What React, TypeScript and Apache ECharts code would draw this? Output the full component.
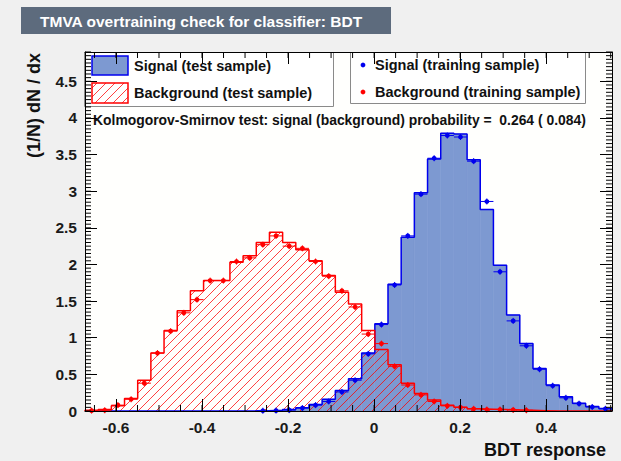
import { useEffect, useRef } from "react";
import * as echarts from "echarts";

// Binning of the BDT response histograms (40 equal bins)
const BIN_LOW = -0.672;
const BIN_WIDTH = 0.030625;
const N_BINS = 40;
const X_MIN = BIN_LOW;
const X_MAX = BIN_LOW + N_BINS * BIN_WIDTH;
const Y_MIN = 0;
const Y_MAX = 4.9;

// Axis tick labels
const xTickLabels = [-0.6, -0.4, -0.2, 0, 0.2, 0.4];
const yTickLabels = [0, 0.5, 1, 1.5, 2, 2.5, 3, 3.5, 4, 4.5];

// Normalised (1/N) dN/dx per bin
const signalTest = [
  0, 0, 0, 0, 0, 0, 0, 0, 0, 0,
  0, 0, 0, 0.003, 0.01, 0.02, 0.045, 0.09, 0.16, 0.28,
  0.44, 0.79, 1.19, 1.73, 2.37, 2.98, 3.44, 3.79, 3.78, 3.43,
  2.75, 1.99, 1.31, 0.92, 0.58, 0.355, 0.195, 0.105, 0.06, 0.035,
];
const backgroundTest = [
  0.01, 0.02, 0.07, 0.17, 0.42, 0.79, 1.1, 1.37, 1.64, 1.78,
  1.78, 2.03, 2.12, 2.3, 2.44, 2.3, 2.2, 2.05, 1.85, 1.62,
  1.46, 1.1, 0.84, 0.63, 0.38, 0.24, 0.15, 0.08, 0.05, 0.03,
  0.025, 0.02, 0.015, 0.01, 0.005, 0, 0, 0, 0, 0,
];
const signalTrain = [
  null, null, null, null, null, null, null, null, null, null,
  null, null, null, 0.004, 0.006, 0.012, 0.04, 0.08, 0.13, 0.26,
  0.42, 0.78, 1.18, 1.72, 2.39, 2.96, 3.45, 3.76, 3.74, 3.41,
  2.86, 1.9, 1.23, 0.89, 0.57, 0.345, 0.18, 0.1, 0.055, 0.03,
];
const backgroundTrain = [
  0.005, 0.01, 0.08, 0.16, 0.38, 0.79, 1.09, 1.34, 1.52, 1.78,
  1.78, 2.04, 2.09, 2.27, 2.39, 2.25, 2.22, 2.04, 1.84, 1.64,
  1.42, 1.05, 0.92, 0.61, 0.355, 0.22, 0.13, 0.07, 0.05, 0.03,
  0.02, 0.02, 0.015, 0.01, null, null, null, null, null, null,
];

const ksSignal = "0.264";
const ksBackground = "0.084";

const FONT = "'Liberation Sans', Arial, Helvetica, sans-serif";
const SIGNAL_FILL = "#7d99d1";
const SIGNAL_LINE = "#0000ee";
const BACKGROUND_LINE = "#ff0000";
const HATCH_STEP = 9;
const TICK_COLOR = "#000000";

const GRID = { left: 85, right: 9, top: 52, bottom: 50 };

const binEdges = Array.from({ length: N_BINS + 1 }, (_, i) => BIN_LOW + i * BIN_WIDTH);

function binData(values: (number | null)[]) {
  return values
    .map((v, i) => [binEdges[i], binEdges[i + 1], v])
    .filter((d) => d[2] !== null);
}

// Outline of a histogram as a stepped polyline
function stepPoints(values: number[]) {
  const pts: number[][] = [[X_MIN, 0]];
  values.forEach((v, i) => pts.push([binEdges[i], v]));
  pts.push([X_MAX, values[values.length - 1]]);
  pts.push([X_MAX, 0]);
  return pts;
}

// 45 degree hatch segments ("/") clipped to a pixel rectangle
function hatchLines(x0: number, y0: number, x1: number, y1: number, step: number) {
  const out: number[][] = [];
  const kMin = Math.ceil((x0 + y0) / step);
  const kMax = Math.floor((x1 + y1) / step);
  for (let k = kMin; k <= kMax; k++) {
    const c = k * step;
    const xa = Math.max(x0, c - y1);
    const xb = Math.min(x1, c - y0);
    if (xb > xa) out.push([xa, c - xa, xb, c - xb]);
  }
  return out;
}

function ticksEvery(min: number, max: number, stepHundredths: number) {
  const vals: number[] = [];
  const k0 = Math.ceil(Math.round(min * 1000) / (stepHundredths * 10));
  const k1 = Math.floor(Math.round(max * 1000) / (stepHundredths * 10));
  for (let k = k0; k <= k1; k++) vals.push((k * stepHundredths) / 100);
  return vals;
}

const xMinorTicks = ticksEvery(X_MIN, X_MAX, 5);
const yMinorTicks = ticksEvery(Y_MIN, Y_MAX, 5);

const labelStyle = {
  fontFamily: FONT,
  fontWeight: "bold" as const,
  fontSize: 15.5,
  color: "#1a1a1a",
};

function xAxisDef(position: "top" | "bottom", labels: boolean) {
  return {
    type: "value",
    position,
    min: X_MIN,
    max: X_MAX,
    z: 10,
    axisLine: { show: true, onZero: false, lineStyle: { color: "#000", width: 1 } },
    axisTick: { show: true, inside: true, length: 12, customValues: xTickLabels, lineStyle: { color: "#000", width: 1 } },
    axisLabel: labels
      ? { show: true, customValues: xTickLabels, margin: 8, ...labelStyle }
      : { show: false },
    splitLine: { show: false },
  };
}

function yAxisDef(position: "left" | "right", labels: boolean) {
  return {
    type: "value",
    position,
    min: Y_MIN,
    max: Y_MAX,
    z: 10,
    axisLine: { show: true, onZero: false, lineStyle: { color: "#000", width: 1 } },
    axisTick: { show: true, inside: true, length: 12, customValues: yTickLabels, lineStyle: { color: "#000", width: 1 } },
    axisLabel: labels
      ? { show: true, customValues: yTickLabels, margin: 8, ...labelStyle }
      : { show: false },
    splitLine: { show: false },
  };
}

function legendGraphics() {
  const els: any[] = [];
  const z = 5;
  const textStyle = (text: string, x: number, y: number, size: number) => ({
    type: "text",
    z,
    x,
    y,
    style: {
      text,
      fill: "#111",
      fontFamily: FONT,
      fontWeight: "bold",
      fontSize: size,
      align: "left",
      verticalAlign: "middle",
      textAlign: "left",
      textVerticalAlign: "middle",
    },
  });

  // Title box
  els.push({ type: "rect", z, shape: { x: 21, y: 7, width: 370, height: 27 }, style: { fill: "#5d6b7d" } });
  els.push({
    type: "text",
    z,
    x: 40,
    y: 21,
    style: {
      text: "TMVA overtraining check for classifier: BDT",
      fill: "#ffffff",
      fontFamily: FONT,
      fontWeight: "bold",
      fontSize: 15.5,
      align: "left",
      verticalAlign: "middle",
      textAlign: "left",
      textVerticalAlign: "middle",
    },
  });

  // Test sample legend
  els.push({ type: "rect", z, shape: { x: 84.5, y: 52.5, width: 249, height: 54 }, style: { fill: "#ffffff", stroke: "#8a8a8a", lineWidth: 1 } });
  els.push({ type: "rect", z, shape: { x: 92, y: 56, width: 36, height: 19 }, style: { fill: SIGNAL_FILL, stroke: SIGNAL_LINE, lineWidth: 1.5 } });
  els.push(textStyle("Signal (test sample)", 134, 66, 14.5));
  hatchLines(92, 83, 128, 103, HATCH_STEP).forEach((l) =>
    els.push({ type: "line", z, shape: { x1: l[0], y1: l[1], x2: l[2], y2: l[3] }, style: { stroke: BACKGROUND_LINE, lineWidth: 1, opacity: 0.75 } })
  );
  els.push({ type: "rect", z, shape: { x: 92, y: 83, width: 36, height: 20 }, style: { fill: "none", stroke: BACKGROUND_LINE, lineWidth: 1.5 } });
  els.push(textStyle("Background (test sample)", 134, 93, 14.5));

  // Training sample legend
  els.push({ type: "rect", z, shape: { x: 350.5, y: 52.5, width: 235, height: 51 }, style: { fill: "#ffffff", stroke: "#8a8a8a", lineWidth: 1 } });
  els.push({ type: "circle", z, shape: { cx: 363, cy: 65, r: 2.4 }, style: { fill: SIGNAL_LINE } });
  els.push(textStyle("Signal (training sample)", 375, 65, 14.5));
  els.push({ type: "circle", z, shape: { cx: 363, cy: 92, r: 2.4 }, style: { fill: BACKGROUND_LINE } });
  els.push(textStyle("Background (training sample)", 375, 92, 14.5));

  // Kolmogorov-Smirnov result
  els.push(
    textStyle(
      `Kolmogorov-Smirnov test: signal (background) probability =  ${ksSignal} ( ${ksBackground})`,
      93,
      120,
      13.9
    )
  );

  // Axis titles
  els.push({
    type: "text",
    z,
    x: 34,
    y: 53,
    rotation: Math.PI / 2,
    style: {
      text: "(1/N) dN / dx",
      fill: "#111",
      fontFamily: FONT,
      fontWeight: "bold",
      fontSize: 18,
      align: "right",
      verticalAlign: "middle",
      textAlign: "right",
      textVerticalAlign: "middle",
    },
  });
  els.push({
    type: "text",
    z,
    x: 606,
    y: 450,
    style: {
      text: "BDT response",
      fill: "#111",
      fontFamily: FONT,
      fontWeight: "bold",
      fontSize: 18,
      align: "right",
      verticalAlign: "middle",
      textAlign: "right",
      textVerticalAlign: "middle",
    },
  });
  return els;
}

// Secondary ticks on all four sides, placed through the chart's own axis scales
function minorTickGraphics(chart: any) {
  const els: any[] = [];
  const len = 6;
  const toPx = (p: number[]) => chart.convertToPixel({ xAxisIndex: 0, yAxisIndex: 0 }, p);
  const corner0 = toPx([X_MIN, Y_MAX]);
  const corner1 = toPx([X_MAX, Y_MIN]);
  const left = corner0[0];
  const top = corner0[1];
  const right = corner1[0];
  const bottom = corner1[1];
  const seg = (x1: number, y1: number, x2: number, y2: number) =>
    els.push({
      type: "line",
      z: 12,
      silent: true,
      shape: { x1, y1, x2, y2 },
      style: { stroke: TICK_COLOR, lineWidth: 1 },
    });
  xMinorTicks.forEach((v) => {
    const px = toPx([v, Y_MIN])[0];
    seg(px, bottom, px, bottom - len);
    seg(px, top, px, top + len);
  });
  yMinorTicks.forEach((v) => {
    const py = toPx([X_MIN, v])[1];
    seg(left, py, left + len, py);
    seg(right, py, right - len, py);
  });
  return els;
}

function pointsSeries(values: (number | null)[], color: string) {
  return {
    type: "custom",
    xAxisIndex: 0,
    yAxisIndex: 0,
    z: 4,
    encode: { x: [0, 1], y: 2 },
    data: binData(values),
    renderItem: (_params: any, api: any) => {
      const lo = api.value(0);
      const hi = api.value(1);
      const v = api.value(2);
      const a = api.coord([lo, v]);
      const b = api.coord([hi, v]);
      const c = api.coord([(lo + hi) / 2, v]);
      return {
        type: "group",
        children: [
          { type: "line", shape: { x1: a[0], y1: a[1], x2: b[0], y2: b[1] }, style: { stroke: color, lineWidth: 1 } },
          { type: "line", shape: { x1: c[0], y1: c[1] - 3, x2: c[0], y2: c[1] + 3 }, style: { stroke: color, lineWidth: 1 } },
          { type: "circle", shape: { cx: c[0], cy: c[1], r: 2.4 }, style: { fill: color } },
        ],
      };
    },
  };
}

export default function App() {
  const ref = useRef<HTMLDivElement>(null);

  useEffect(() => {
    if (!ref.current) return;
    const chart = echarts.init(ref.current, undefined, { renderer: "svg" });

    const option: any = {
      animation: false,
      backgroundColor: "#f0f0f0",
      grid: { ...GRID, show: true, backgroundColor: "#fffffd", borderWidth: 0 },
      xAxis: [xAxisDef("bottom", true), xAxisDef("top", false)],
      yAxis: [yAxisDef("left", true), yAxisDef("right", false)],
      series: [
        {
          // Signal (test sample) filled histogram
          type: "custom",
          xAxisIndex: 0,
          yAxisIndex: 0,
          z: 2,
          encode: { x: [0, 1], y: 2 },
          data: binData(signalTest),
          renderItem: (_params: any, api: any) => {
            const v = api.value(2);
            if (!v) return null;
            const a = api.coord([api.value(0), v]);
            const b = api.coord([api.value(1), 0]);
            return {
              type: "rect",
              shape: { x: a[0], y: a[1], width: b[0] - a[0], height: b[1] - a[1] },
              style: { fill: SIGNAL_FILL, stroke: SIGNAL_FILL, lineWidth: 0.6 },
            };
          },
        },
        {
          type: "line",
          xAxisIndex: 0,
          yAxisIndex: 0,
          z: 3,
          step: "end",
          symbol: "none",
          data: stepPoints(signalTest),
          lineStyle: { color: SIGNAL_LINE, width: 1.5 },
        },
        {
          // Background (test sample) hatched histogram
          type: "custom",
          xAxisIndex: 0,
          yAxisIndex: 0,
          z: 3,
          encode: { x: [0, 1], y: 2 },
          data: binData(backgroundTest),
          renderItem: (_params: any, api: any) => {
            const v = api.value(2);
            if (!v) return null;
            const a = api.coord([api.value(0), v]);
            const b = api.coord([api.value(1), 0]);
            const lines = hatchLines(a[0], a[1], b[0], b[1], HATCH_STEP);
            return {
              type: "group",
              children: lines.map((l) => ({
                type: "line",
                shape: { x1: l[0], y1: l[1], x2: l[2], y2: l[3] },
                style: { stroke: BACKGROUND_LINE, lineWidth: 1, opacity: 0.75 },
              })),
            };
          },
        },
        {
          type: "line",
          xAxisIndex: 0,
          yAxisIndex: 0,
          z: 3,
          step: "end",
          symbol: "none",
          data: stepPoints(backgroundTest),
          lineStyle: { color: BACKGROUND_LINE, width: 1.5 },
        },
        pointsSeries(signalTrain, SIGNAL_LINE),
        pointsSeries(backgroundTrain, BACKGROUND_LINE),
      ],
    };

    chart.setOption(option);
    chart.setOption({
      graphic: { elements: [...legendGraphics(), ...minorTickGraphics(chart)] },
    });
    return () => chart.dispose();
  }, []);

  return (
    <div
      ref={ref}
      style={{ position: "absolute", left: 0, top: 0, width: 621, height: 461 }}
    />
  );
}
